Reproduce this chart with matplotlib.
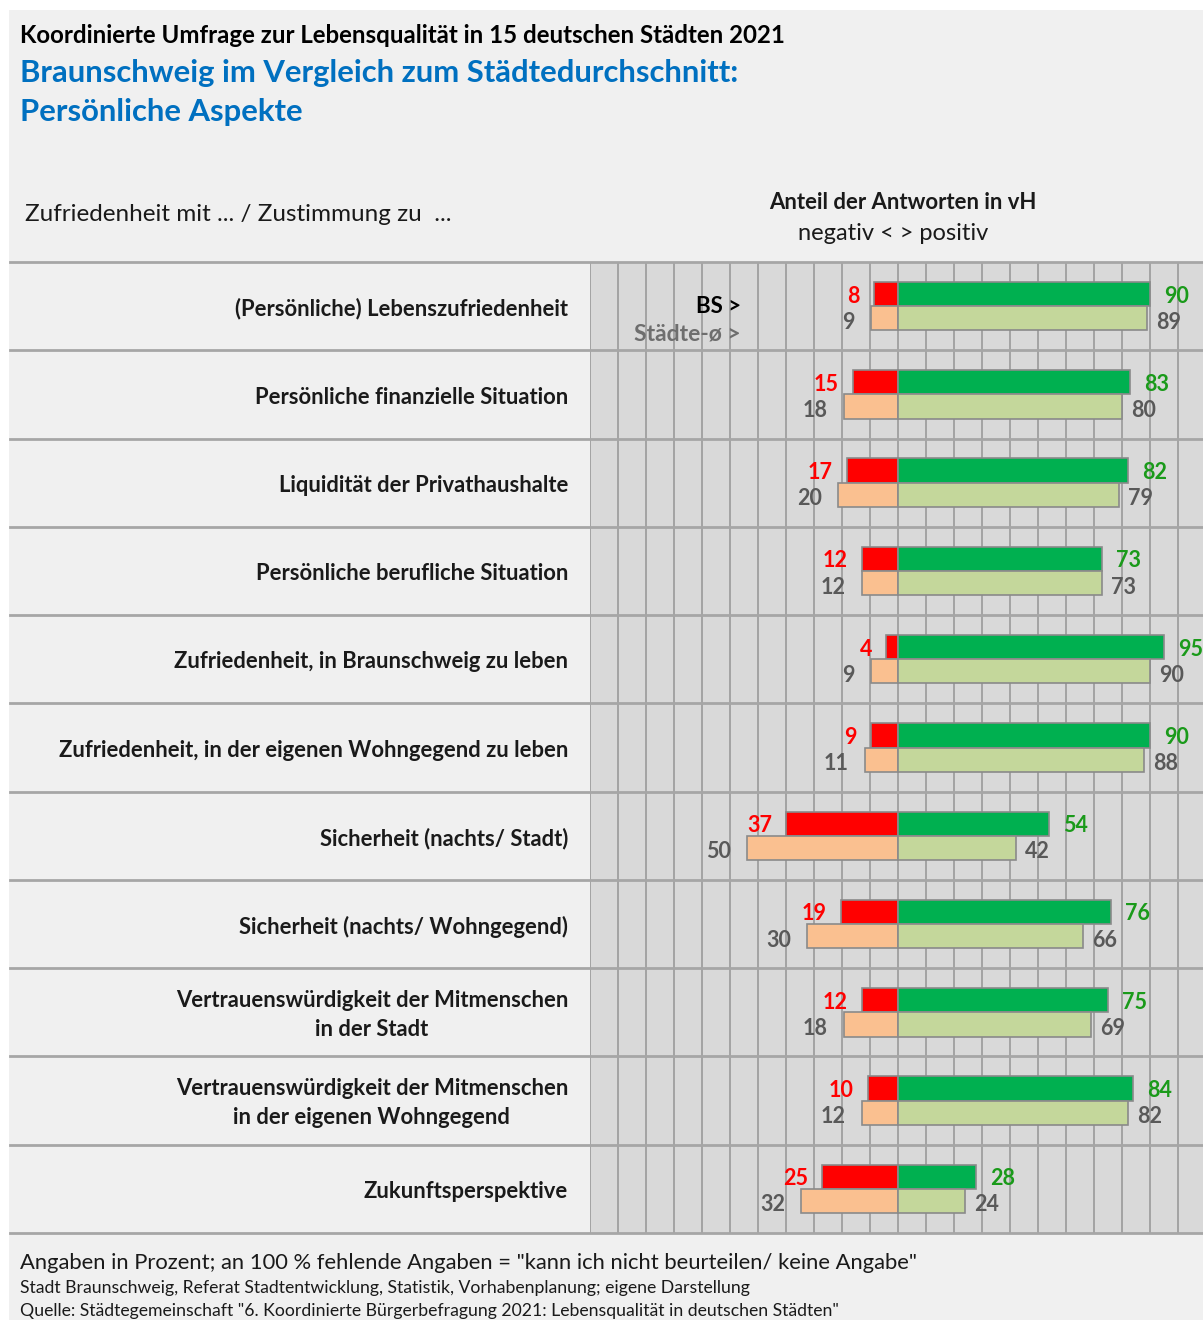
import numpy as np
import matplotlib.pyplot as plt
from matplotlib.patches import Rectangle
from matplotlib.transforms import blended_transform_factory

plt.rcParams['font.family'] = ['Lato', 'DejaVu Sans']

# Data: share of answers in percent (negative / positive)
items = [
    "(Persönliche) Lebenszufriedenheit",
    "Persönliche finanzielle Situation",
    "Liquidität der Privathaushalte",
    "Persönliche berufliche Situation",
    "Zufriedenheit, in Braunschweig zu leben",
    "Zufriedenheit, in der eigenen Wohngegend zu leben",
    "Sicherheit (nachts/ Stadt)",
    "Sicherheit (nachts/ Wohngegend)",
    "Vertrauenswürdigkeit der Mitmenschen\nin der Stadt",
    "Vertrauenswürdigkeit der Mitmenschen\nin der eigenen Wohngegend",
    "Zukunftsperspektive",
]
bs_neg = [8, 15, 17, 12, 4, 9, 37, 19, 12, 10, 25]
bs_pos = [90, 83, 82, 73, 95, 90, 54, 76, 75, 84, 28]
city_neg = [9, 18, 20, 12, 9, 11, 50, 30, 18, 12, 32]
city_pos = [89, 80, 79, 73, 90, 88, 42, 66, 69, 82, 24]

W, H = 1203, 1320
fig = plt.figure(figsize=(W / 100, H / 100), dpi=100, facecolor='white')


def fx(px):
    return px / W


def fy(py):
    return 1 - py / H


# light grey panel behind everything
fig.patches.append(Rectangle((fx(9), 0), 1 - fx(9), fy(10), transform=fig.transFigure,
                             facecolor='#f0f0f0', edgecolor='none', zorder=-5))

# header texts
fig.text(fx(20), fy(35.5), "Koordinierte Umfrage zur Lebensqualität in 15 deutschen Städten 2021",
         fontsize=17.3, fontweight='bold', color='black', va='center')
fig.text(fx(20), fy(73), "Braunschweig im Vergleich zum Städtedurchschnitt:",
         fontsize=22.3, fontweight='bold', color='#0070c0', va='center')
fig.text(fx(20), fy(112.5), "Persönliche Aspekte",
         fontsize=22.3, fontweight='bold', color='#0070c0', va='center')
fig.text(fx(25), fy(214.5), "Zufriedenheit mit ... / Zustimmung zu  ...",
         fontsize=17.5, color='#1a1a1a', va='center')
fig.text(fx(903), fy(202.5), "Anteil der Antworten in vH",
         fontsize=15.9, fontweight='bold', color='#1a1a1a', ha='center', va='center')
fig.text(fx(893), fy(234), "negativ < > positiv",
         fontsize=17, color='#1a1a1a', ha='center', va='center')

# footer texts
fig.text(fx(20), fy(1263), 'Angaben in Prozent; an 100 % fehlende Angaben = "kann ich nicht beurteilen/ keine Angabe"',
         fontsize=15.8, color='#1a1a1a', va='center')
fig.text(fx(20), fy(1288), "Stadt Braunschweig, Referat Stadtentwicklung, Statistik, Vorhabenplanung; eigene Darstellung",
         fontsize=12.7, color='#1a1a1a', va='center')
fig.text(fx(20), fy(1311), 'Quelle: Städtegemeinschaft "6. Koordinierte Bürgerbefragung 2021: Lebensqualität in deutschen Städten"',
         fontsize=12.7, color='#1a1a1a', va='center')

# chart area
top, bottom, left = 262, 1233, 590
ax = fig.add_axes([fx(left), fy(bottom), 1 - fx(left), (bottom - top) / H])
ax.set_facecolor('#d9d9d9')

# the negative side is drawn slightly stretched in the original
k = 1.08


def fwd(x):
    x = np.asarray(x, dtype=float)
    return np.where(x < 0, x * k, x)


def inv(x):
    x = np.asarray(x, dtype=float)
    return np.where(x < 0, x / k, x)


ax.set_xscale('function', functions=(fwd, inv))
ax.set_xlim(-110 / k, 108.9)
n = len(items)
ax.set_ylim(n - 0.5, -0.5)

ax.set_xticks(inv(np.arange(-110, 110, 10)))
ax.set_yticks([])
ax.tick_params(length=0, labelbottom=False)
ax.grid(axis='x', color='#a3a3a3', lw=1.4)
ax.set_axisbelow(True)
for s in ax.spines.values():
    s.set_visible(False)

# row separators, running through the label column
for b in np.arange(-0.5, n, 1):
    ax.axhline(b, xmin=-(left - 10) / (W - left), xmax=1, color='#a6a6a6', lw=2, clip_on=False, zorder=1)

y = np.arange(n)
h = 0.274
edge = '#8a8a8a'
ax.barh(y - h / 2, -np.array(bs_neg), height=h, color='#ff0000', edgecolor=edge, lw=1.2, zorder=3)
ax.barh(y - h / 2, bs_pos, height=h, color='#00b050', edgecolor=edge, lw=1.2, zorder=3)
ax.barh(y + h / 2, -np.array(city_neg), height=h, color='#fac090', edgecolor=edge, lw=1.2, zorder=3)
ax.barh(y + h / 2, city_pos, height=h, color='#c4d79b', edgecolor=edge, lw=1.2, zorder=3)

pt = 72 / 100  # pixels -> points
lab = dict(fontsize=15.5, fontweight='bold', va='center', textcoords='offset points')
for i in range(n):
    ax.annotate(str(bs_neg[i]), (-bs_neg[i], i - h / 2), xytext=(-14 * pt, -2 * pt), ha='right', color='#ff0000', **lab)
    ax.annotate(str(bs_pos[i]), (bs_pos[i], i - h / 2), xytext=(14 * pt, -2 * pt), ha='left', color='#1a9a1a', **lab)
    ax.annotate(str(city_neg[i]), (-city_neg[i], i + h / 2), xytext=(-16 * pt, -4 * pt), ha='right', color='#595959', **lab)
    ax.annotate(str(city_pos[i]), (city_pos[i], i + h / 2), xytext=(9 * pt, -4 * pt), ha='left', color='#595959', **lab)

# category labels in the left column
tr = blended_transform_factory(fig.transFigure, ax.transData)
for i, name in enumerate(items):
    ax.text(fx(568), i + 0.03, name, transform=tr, ha='right', va='center', multialignment='center',
            fontsize=15.8, fontweight='bold', color='#1a1a1a', linespacing=1.45)

# legend hints inside the first row
ax.text(fx(741), 0 - 0.0, "BS >", transform=tr, ha='right', va='center',
        fontsize=16, fontweight='bold', color='black')
ax.text(fx(741), 0 + 0.31, "Städte-ø >", transform=tr, ha='right', va='center',
        fontsize=16.5, fontweight='bold', color='#6e6e6e')

fig.savefig("out.png", dpi=100)
